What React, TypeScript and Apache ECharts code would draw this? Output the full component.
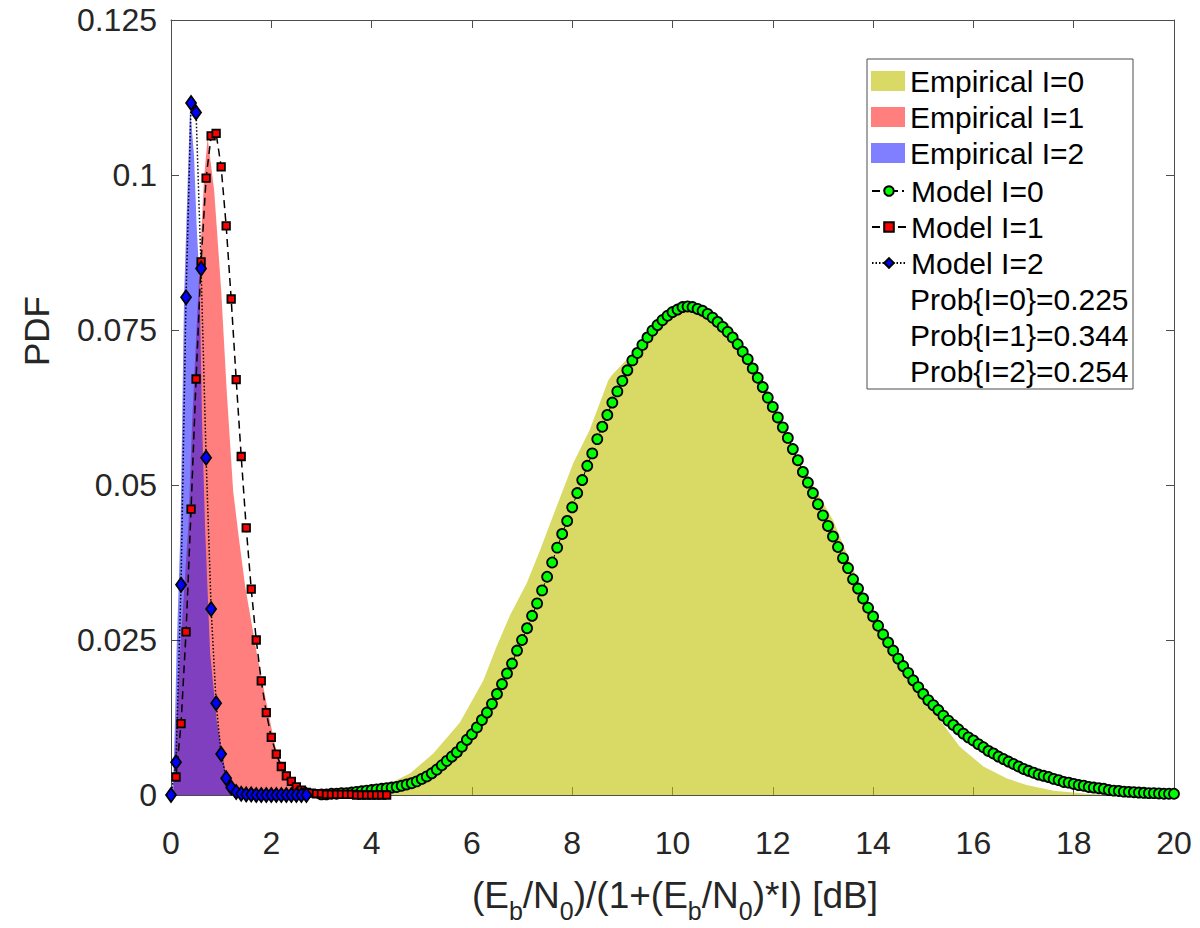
import React, { useEffect, useRef } from 'react';
import * as echarts from 'echarts';

const FONT = '"Liberation Sans", Arial, Helvetica, sans-serif';

// Axis ranges / ticks
const X_MIN = 0;
const X_MAX = 20;
const X_STEP = 2;
const Y_MIN = 0;
const Y_MAX = 0.125;
const Y_STEP = 0.025;
const yTickLabels = ['0', '0.025', '0.05', '0.075', '0.1', '0.125'];

// Empirical PDFs (filled areas) [x, pdf]
const empiricalI0: [number, number][] = [
  [3.5, 0], [4.17, 0.0011], [4.77, 0.0035], [5.23, 0.0067], [5.76, 0.0117], [6.23, 0.0185],
  [6.49, 0.0239], [6.76, 0.029], [7.09, 0.0341], [7.36, 0.0395], [7.56, 0.0438], [8.02, 0.0535],
  [8.35, 0.0589], [8.72, 0.0669], [8.79, 0.0677], [9.2, 0.0712], [9.6, 0.075], [10.0, 0.0773],
  [10.3, 0.078], [10.7, 0.0776], [11.11, 0.0761], [11.5, 0.0712], [11.88, 0.0653], [12.48, 0.0546],
  [13.21, 0.0442], [13.61, 0.0363], [14.0, 0.0293], [14.34, 0.0228], [14.8, 0.0175], [15.33, 0.0121],
  [15.73, 0.0078], [16.2, 0.0046], [16.66, 0.0027], [17.06, 0.0016], [17.6, 0.0007], [18.26, 0.0002],
  [18.9, 0],
];
const empiricalI1: [number, number][] = [
  [0.05, 0], [0.11, 0.012], [0.18, 0.023], [0.35, 0.044], [0.42, 0.06], [0.58, 0.087],
  [0.66, 0.0995], [0.73, 0.106], [0.86, 0.0976], [1.0, 0.0815], [1.11, 0.0653], [1.24, 0.049],
  [1.36, 0.041], [1.48, 0.0336], [1.71, 0.0229], [1.97, 0.0121], [2.11, 0.0067], [2.27, 0.004],
  [2.44, 0.0013], [2.57, 0],
];
const empiricalI2: [number, number][] = [
  [0.02, 0], [0.05, 0.004], [0.08, 0.0121], [0.11, 0.0229], [0.19, 0.043], [0.26, 0.08],
  [0.38, 0.111], [0.46, 0.103], [0.51, 0.092], [0.57, 0.0827], [0.62, 0.06], [0.68, 0.043],
  [0.78, 0.0229], [0.91, 0.0121], [1.08, 0.004], [1.14, 0.0013], [1.18, 0],
];

// Model PDFs (markers) [x, pdf]
const modelI0: [number, number][] = [
  [3.0, 0.0001], [3.1, 0.0001], [3.2, 0.0002], [3.3, 0.0002], [3.4, 0.0003], [3.5, 0.0003],
  [3.6, 0.0004], [3.7, 0.0005], [3.8, 0.0006], [3.9, 0.0007], [4.0, 0.0008], [4.1, 0.0009],
  [4.2, 0.001], [4.3, 0.0011], [4.4, 0.0012], [4.5, 0.0013], [4.6, 0.0015], [4.7, 0.0017],
  [4.8, 0.0019], [4.9, 0.0022], [5.0, 0.0026], [5.1, 0.003], [5.2, 0.0035], [5.3, 0.0041],
  [5.4, 0.0048], [5.5, 0.0055], [5.6, 0.0062], [5.7, 0.0069], [5.8, 0.0078], [5.9, 0.0089],
  [6.0, 0.0098], [6.1, 0.0109], [6.2, 0.0121], [6.3, 0.0133], [6.4, 0.0147], [6.5, 0.0163],
  [6.6, 0.0179], [6.7, 0.0196], [6.8, 0.0212], [6.9, 0.0233], [7.0, 0.025], [7.1, 0.0269],
  [7.2, 0.0289], [7.3, 0.0309], [7.4, 0.033], [7.5, 0.0352], [7.6, 0.0375], [7.7, 0.0399],
  [7.8, 0.0421], [7.9, 0.0442], [8.0, 0.0464], [8.1, 0.0487], [8.2, 0.0508], [8.3, 0.0531],
  [8.4, 0.0551], [8.5, 0.0574], [8.6, 0.0594], [8.7, 0.0613], [8.8, 0.0633], [8.9, 0.0651],
  [9.0, 0.0668], [9.1, 0.0685], [9.2, 0.0701], [9.3, 0.0713], [9.4, 0.0726], [9.5, 0.0738],
  [9.6, 0.0749], [9.7, 0.0758], [9.8, 0.0766], [9.9, 0.0773], [10.0, 0.0779], [10.1, 0.0783],
  [10.2, 0.0787], [10.3, 0.0788], [10.4, 0.0787], [10.5, 0.0784], [10.6, 0.0781], [10.7, 0.0776],
  [10.8, 0.077], [10.9, 0.0763], [11.0, 0.0755], [11.1, 0.0747], [11.2, 0.0738], [11.3, 0.0727],
  [11.4, 0.0715], [11.5, 0.0703], [11.6, 0.0688], [11.7, 0.0673], [11.8, 0.0658], [11.9, 0.0641],
  [12.0, 0.0626], [12.1, 0.0609], [12.2, 0.0593], [12.3, 0.0576], [12.4, 0.0558], [12.5, 0.054],
  [12.6, 0.0521], [12.7, 0.0504], [12.8, 0.0487], [12.9, 0.0469], [13.0, 0.0451], [13.1, 0.0434],
  [13.2, 0.0417], [13.3, 0.04], [13.4, 0.0382], [13.5, 0.0366], [13.6, 0.0348], [13.7, 0.0333],
  [13.8, 0.0317], [13.9, 0.0302], [14.0, 0.0288], [14.1, 0.0273], [14.2, 0.0259], [14.3, 0.0246],
  [14.4, 0.0233], [14.5, 0.022], [14.6, 0.0208], [14.7, 0.0197], [14.8, 0.0185], [14.9, 0.0174],
  [15.0, 0.0163], [15.1, 0.0153], [15.2, 0.0145], [15.3, 0.0137], [15.4, 0.0128], [15.5, 0.012],
  [15.6, 0.0113], [15.7, 0.0106], [15.8, 0.0099], [15.9, 0.0093], [16.0, 0.0088], [16.1, 0.0082],
  [16.2, 0.0077], [16.3, 0.0071], [16.4, 0.0067], [16.5, 0.0062], [16.6, 0.0058], [16.7, 0.0054],
  [16.8, 0.005], [16.9, 0.0046], [17.0, 0.0042], [17.1, 0.0039], [17.2, 0.0036], [17.3, 0.0033],
  [17.4, 0.0031], [17.5, 0.0029], [17.6, 0.0026], [17.7, 0.0024], [17.8, 0.0021], [17.9, 0.002],
  [18.0, 0.0018], [18.1, 0.0016], [18.2, 0.0015], [18.3, 0.0013], [18.4, 0.0012], [18.5, 0.0011],
  [18.6, 0.001], [18.7, 0.0008], [18.8, 0.0007], [18.9, 0.00065], [19.0, 0.00055], [19.1, 0.0005],
  [19.2, 0.00045], [19.3, 0.0004], [19.4, 0.00035], [19.5, 0.0003], [19.6, 0.0003], [19.7, 0.00025],
  [19.8, 0.0002], [19.9, 0.0002], [20.0, 0.0002],
];
const modelI1: [number, number][] = [
  [0.1, 0.0029], [0.2, 0.0115], [0.3, 0.0263], [0.4, 0.0461], [0.5, 0.0671], [0.6, 0.086],
  [0.7, 0.0995], [0.8, 0.1063], [0.9, 0.1067], [1.0, 0.1013], [1.1, 0.0918], [1.2, 0.08],
  [1.3, 0.067], [1.4, 0.0546], [1.5, 0.0431], [1.6, 0.0332], [1.7, 0.025], [1.8, 0.0184],
  [1.9, 0.0133], [2.0, 0.0093], [2.1, 0.0066], [2.2, 0.0046], [2.3, 0.0031], [2.4, 0.0022],
  [2.5, 0.0013], [2.6, 0.0008], [2.7, 0.0004], [2.8, 0.0003], [2.9, 0.0002], [3.0, 0.0002],
  [3.1, 0.0001], [3.2, 0.0001], [3.3, 0.0001], [3.4, 0.0001], [3.5, 0.0001], [3.6, 0.0001],
  [3.7, 0], [3.8, 0], [3.9, 0], [4.0, 0], [4.1, 0], [4.2, 0], [4.3, 0],
];
const modelI2: [number, number][] = [
  [0.0, 0], [0.1, 0.0053], [0.2, 0.0339], [0.3, 0.0803], [0.4, 0.1116], [0.5, 0.1101],
  [0.6, 0.0849], [0.7, 0.0544], [0.8, 0.03], [0.9, 0.0148], [1.0, 0.0066], [1.1, 0.0027],
  [1.2, 0.0012], [1.3, 0.0005], [1.4, 0.0002], [1.5, 0.0001], [1.6, 0.0001], [1.7, 0],
  [1.8, 0], [1.9, 0], [2.0, 0], [2.1, 0], [2.2, 0], [2.3, 0], [2.4, 0], [2.5, 0], [2.6, 0], [2.7, 0],
];

const empiricalNames = ['Empirical I=0', 'Empirical I=1', 'Empirical I=2'];
const modelNames = ['Model I=0', 'Model I=1', 'Model I=2'];
const probLabels = ['Prob{I=0}=0.225', 'Prob{I=1}=0.344', 'Prob{I=2}=0.254'];

const AXIS_COLOR = '#4d4d4d';
const TICK_TEXT = '#262626';

function makeXAxis(pos: 'bottom' | 'top', labels: boolean) {
  return {
    type: 'value',
    position: pos,
    min: X_MIN,
    max: X_MAX,
    interval: X_STEP,
    axisLine: { show: true, onZero: false, lineStyle: { color: AXIS_COLOR, width: 1 } },
    axisTick: { show: true, inside: true, length: 8, lineStyle: { color: AXIS_COLOR, width: 1 } },
    axisLabel: {
      show: labels,
      fontSize: 32,
      color: TICK_TEXT,
      fontFamily: FONT,
      margin: 32,
    },
    splitLine: { show: false },
  };
}

function makeYAxis(pos: 'left' | 'right', labels: boolean) {
  return {
    type: 'value',
    position: pos,
    min: Y_MIN,
    max: Y_MAX,
    interval: Y_STEP,
    axisLine: { show: true, onZero: false, lineStyle: { color: AXIS_COLOR, width: 1 } },
    axisTick: { show: true, inside: true, length: 8, lineStyle: { color: AXIS_COLOR, width: 1 } },
    axisLabel: {
      show: labels,
      fontSize: 32,
      color: TICK_TEXT,
      fontFamily: FONT,
      margin: 14,
      formatter: (v: number) => yTickLabels[Math.round(v / Y_STEP)] ?? String(v),
    },
    splitLine: { show: false },
  };
}

function empiricalSeries(name: string, data: [number, number][], color: string) {
  return {
    type: 'line',
    name,
    data,
    xAxisIndex: 0,
    yAxisIndex: 0,
    symbol: 'none',
    showSymbol: false,
    smooth: false,
    color,
    itemStyle: { color },
    lineStyle: { width: 0, color },
    areaStyle: { color, opacity: 1 },
    silent: true,
    emphasis: { disabled: true },
  };
}

function modelSeries(
  name: string,
  data: [number, number][],
  symbol: string,
  symbolSize: number | number[],
  fill: string,
  dash: number[],
  lineWidth: number,
) {
  return {
    type: 'line',
    name,
    data,
    xAxisIndex: 0,
    yAxisIndex: 0,
    symbol,
    symbolSize,
    showSymbol: true,
    showAllSymbol: true,
    smooth: false,
    color: fill,
    itemStyle: { color: fill, borderColor: '#000', borderWidth: 1.8 },
    lineStyle: { color: '#000', width: lineWidth, type: dash },
    silent: true,
    emphasis: { disabled: true },
  };
}

const legendText = { fontSize: 30, lineHeight: 30, color: '#000', fontFamily: FONT };

function makeLegend(names: string[], top: number, itemHeight: number, icon?: string) {
  return {
    orient: 'vertical',
    left: 871,
    top,
    padding: 0,
    itemWidth: 34,
    itemHeight,
    itemGap: 6,
    selectedMode: false,
    backgroundColor: 'transparent',
    textStyle: legendText,
    data: names.map((n) => (icon ? { name: n, icon } : { name: n })),
    z: 5,
  };
}

const option = {
  animation: false,
  backgroundColor: '#ffffff',
  textStyle: { fontFamily: FONT },
  grid: {
    left: 171,
    right: 26,
    top: 20,
    bottom: 133,
    containLabel: false,
    outerBoundsMode: 'none',
  },
  xAxis: [makeXAxis('bottom', true), makeXAxis('top', false)],
  yAxis: [makeYAxis('left', true), makeYAxis('right', false)],
  legend: [
    makeLegend(empiricalNames, 66, 20, 'rect'),
    makeLegend(modelNames, 176, 12),
    makeLegend(probLabels, 284, 12, 'none'),
  ],
  graphic: {
    elements: [
      {
        type: 'rect',
        z: 3,
        shape: { x: 867, y: 59, width: 266, height: 330 },
        style: { fill: '#ffffff', stroke: '#4d4d4d', lineWidth: 1 },
        silent: true,
      },
      {
        type: 'text',
        x: 36,
        y: 331,
        rotation: Math.PI / 2,
        z: 3,
        style: {
          text: 'PDF',
          fontSize: 35,
          fontFamily: FONT,
          fill: TICK_TEXT,
          align: 'center',
          verticalAlign: 'middle',
        },
        silent: true,
      },
      {
        type: 'text',
        x: 675,
        y: 895,
        z: 3,
        style: {
          text: '{m|(E}{s|b}{m|/N}{s|0}{m|)/(1+(E}{s|b}{m|/N}{s|0}{m|)*I) [dB]}',
          align: 'center',
          verticalAlign: 'middle',
          fill: TICK_TEXT,
          fontFamily: FONT,
          fontSize: 36,
          rich: {
            m: { fontSize: 37, fontFamily: FONT, fill: TICK_TEXT, lineHeight: 56, verticalAlign: 'middle' },
            s: { fontSize: 25, fontFamily: FONT, fill: TICK_TEXT, verticalAlign: 'bottom' },
          },
        },
        silent: true,
      },
    ],
  },
  series: [
    empiricalSeries(empiricalNames[0], empiricalI0, 'rgba(191,191,0,0.6)'),
    empiricalSeries(empiricalNames[1], empiricalI1, 'rgba(255,0,0,0.5)'),
    empiricalSeries(empiricalNames[2], empiricalI2, 'rgba(0,0,255,0.5)'),
    modelSeries(modelNames[0], modelI0, 'circle', 10, '#00ff00', [8, 4, 2, 4], 1),
    modelSeries(modelNames[1], modelI1, 'rect', 7.5, '#ff0000', [8, 5], 1.5),
    modelSeries(modelNames[2], modelI2, 'diamond', [10, 14], '#0000ff', [1.5, 2], 1.5),
    ...probLabels.map((n) => ({ type: 'line', name: n, data: [], silent: true })),
  ],
};

export default function App() {
  const ref = useRef<HTMLDivElement>(null);
  useEffect(() => {
    if (!ref.current) return;
    const chart = echarts.init(ref.current, null, { renderer: 'svg' });
    chart.setOption(option as any);
    return () => {
      chart.dispose();
    };
  }, []);
  return (
    <div
      ref={ref}
      style={{ position: 'absolute', left: 0, top: 0, width: 1200, height: 928, background: '#fff' }}
    />
  );
}
